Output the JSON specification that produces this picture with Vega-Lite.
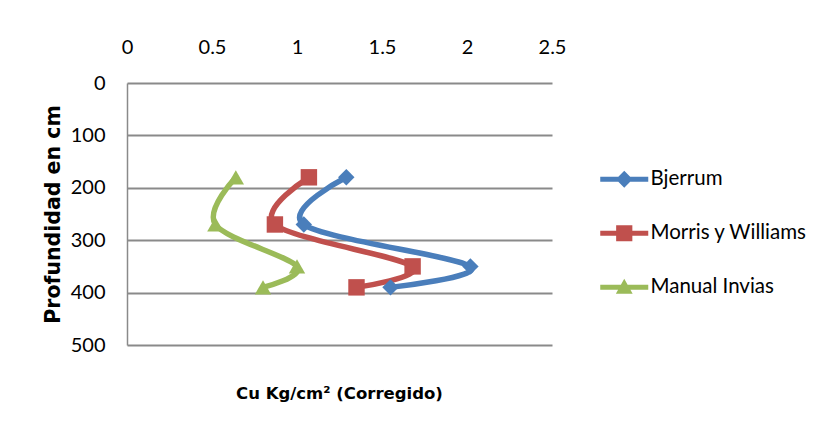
{
  "$schema": "https://vega.github.io/schema/vega-lite/v6.json",
  "autosize": "none",
  "width": 425,
  "height": 262,
  "padding": {"left": 127, "top": 83, "right": 271, "bottom": 94},
  "background": "white",
  "config": {
    "font": "Lato",
    "view": {"stroke": null},
    "axis": {"labelColor": "#000000", "titleColor": "#000000"},
    "legend": {
      "title": null,
      "orient": "none",
      "legendX": 487,
      "legendY": 86,
      "direction": "vertical",
      "labelFontSize": 20.5,
      "labelColor": "#000000",
      "labelLimit": 0,
      "labelOffset": 16,
      "rowPadding": 33,
      "symbolSize": 144,
      "symbolStrokeWidth": 0,
      "symbolOpacity": 1
    }
  },
  "title": {
    "text": "Cu Kg/cm² (Corregido)",
    "orient": "bottom",
    "anchor": "middle",
    "font": "DejaVu Sans",
    "fontSize": 16.5,
    "fontWeight": "bold",
    "color": "#000000",
    "offset": 31
  },
  "data": {
    "values": [
      {"series": "Bjerrum", "cu": 1.29, "depth": 180},
      {"series": "Bjerrum", "cu": 1.04, "depth": 270},
      {"series": "Bjerrum", "cu": 2.02, "depth": 350},
      {"series": "Bjerrum", "cu": 1.55, "depth": 390},
      {"series": "Morris y Williams", "cu": 1.07, "depth": 180},
      {"series": "Morris y Williams", "cu": 0.87, "depth": 270},
      {"series": "Morris y Williams", "cu": 1.68, "depth": 350},
      {"series": "Morris y Williams", "cu": 1.35, "depth": 390},
      {"series": "Manual Invias", "cu": 0.64, "depth": 180},
      {"series": "Manual Invias", "cu": 0.52, "depth": 270},
      {"series": "Manual Invias", "cu": 1.0, "depth": 350},
      {"series": "Manual Invias", "cu": 0.8, "depth": 390}
    ]
  },
  "encoding": {
    "x": {
      "field": "cu",
      "type": "quantitative",
      "scale": {"domain": [0, 2.5], "nice": false, "zero": false},
      "axis": {
        "orient": "top",
        "title": null,
        "values": [0, 0.5, 1, 1.5, 2, 2.5],
        "format": "~g",
        "grid": false,
        "domain": false,
        "ticks": false,
        "labelFontSize": 20,
        "labelPadding": 26,
        "labelFlush": false
      }
    },
    "y": {
      "field": "depth",
      "type": "quantitative",
      "scale": {"domain": [0, 500], "reverse": true, "nice": false},
      "axis": {
        "title": "Profundidad en cm",
        "titleFont": "DejaVu Sans",
        "titleFontSize": 20.5,
        "titleFontWeight": "bold",
        "titlePadding": 7,
        "values": [0, 100, 200, 300, 400, 500],
        "grid": true,
        "gridColor": "#8a8a8a",
        "gridWidth": 2,
        "domain": true,
        "domainColor": "#8a8a8a",
        "domainWidth": 1.5,
        "ticks": false,
        "labelFontSize": 20,
        "labelPadding": 22
      }
    },
    "color": {
      "field": "series",
      "type": "nominal",
      "scale": {
        "domain": ["Bjerrum", "Morris y Williams", "Manual Invias"],
        "range": ["#4A7EBB", "#C0504D", "#9BBB59"]
      }
    }
  },
  "layer": [
    {
      "mark": {"type": "line", "interpolate": "cardinal", "strokeWidth": 5.5, "strokeCap": "round", "strokeJoin": "round"},
      "encoding": {
        "order": {"field": "depth", "type": "quantitative"}
      }
    },
    {
      "mark": {"type": "point", "filled": true, "size": 1, "opacity": 0},
      "encoding": {
        "shape": {
          "field": "series",
          "type": "nominal",
          "scale": {
            "domain": ["Bjerrum", "Morris y Williams", "Manual Invias"],
            "range": [
              "M-4,-0.42H4V0.42H-4Z M-1.4,0L0,-1.4L1.4,0L0,1.4Z",
              "M-4,-0.42H4V0.42H-4Z M-1.35,-1.35H1.35V1.35H-1.35Z",
              "M-4,-0.42H4V0.42H-4Z M0,-1.4L1.4,1.1H-1.4Z"
            ]
          }
        }
      }
    },
    {
      "transform": [{"filter": "datum.series === 'Bjerrum'"}],
      "mark": {"type": "point", "filled": true, "size": 270, "opacity": 1, "shape": "diamond"}
    },
    {
      "transform": [{"filter": "datum.series === 'Morris y Williams'"}],
      "mark": {"type": "point", "filled": true, "size": 270, "opacity": 1, "shape": "square"}
    },
    {
      "transform": [{"filter": "datum.series === 'Manual Invias'"}],
      "mark": {"type": "point", "filled": true, "size": 270, "opacity": 1, "shape": "triangle-up"}
    }
  ]
}
